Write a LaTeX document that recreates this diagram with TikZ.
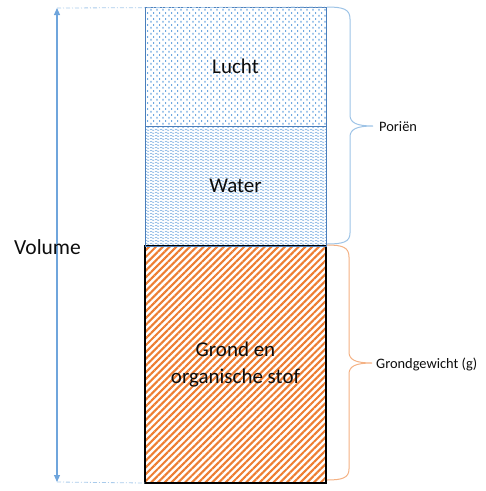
\documentclass[tikz,border=0pt]{standalone}
\usepackage{fontspec}
\setmainfont{Carlito}
\usetikzlibrary{patterns.meta,arrows.meta}
\definecolor{boxblue}{HTML}{4A7EBB}
\definecolor{dotblue}{HTML}{6FA8E0}
\definecolor{waveblue}{HTML}{7FB0E2}
\definecolor{orng}{HTML}{ED7D31}
\definecolor{braceblue}{HTML}{9DC3E6}
\definecolor{braceorng}{HTML}{F4B183}
\definecolor{arrblue}{HTML}{6FA5DC}
\definecolor{dashblue}{HTML}{A9CBEB}
\definecolor{txt}{HTML}{0D0D0D}
\tikzdeclarepattern{
  name=airdots,
  type=uncolored,
  bounding box={(0pt,0pt) and (6pt,6pt)},
  tile size={(6pt,6pt)},
  code={
    \fill (0.5pt,0.5pt) rectangle (1.9pt,2.5pt);
    \fill (3.5pt,3.5pt) rectangle (4.9pt,5.5pt);
  }
}
\tikzdeclarepattern{
  name=waves,
  type=uncolored,
  bounding box={(0pt,0pt) and (5pt,3pt)},
  tile size={(5pt,3pt)},
  code={
    \draw[line width=0.7pt] (0pt,1.5pt) sin (1.25pt,2.4pt) cos (2.5pt,1.5pt) sin (3.75pt,0.6pt) cos (5pt,1.5pt);
  }
}
\tikzset{
  layer/.style={minimum width=181pt, inner sep=0pt, outer sep=0pt, text=txt, font=\fontsize{21}{27}\selectfont, align=center},
  airbox/.style={layer, draw=boxblue, line width=1pt, pattern=airdots, pattern color=dotblue, minimum height=119pt},
  waterbox/.style={layer, draw=boxblue, line width=1pt, pattern=waves, pattern color=waveblue, minimum height=120pt},
  soilbox/.style={layer, draw=black, line width=1.2pt, pattern={Lines[angle=45,distance=4.8pt,line width=2.1pt]}, pattern color=orng, minimum height=237pt},
  guide/.style={dashblue, line width=0.8pt, dash pattern=on 4pt off 2pt on 1pt off 2pt},
  bluebrace/.style={braceblue, line width=1pt},
  orngbrace/.style={braceorng, line width=1pt},
  sidelabel/.style={anchor=west, inner sep=0pt, text=txt, font=\fontsize{14.4}{17}\selectfont}
}
\begin{document}
\begin{tikzpicture}[x=1pt,y=-1pt]
\useasboundingbox (0,0) rectangle (486,491);
% column
\node[soilbox] (grond) at (235.5,364.5) {Grond en\\organische stof};
\node[waterbox] (water) at (235.5,186) {Water};
\node[airbox] (lucht) at (235.5,66.5) {Lucht};
% volume arrow and guides
\coordinate (vtop) at (57,8);
\coordinate (vbot) at (57,482);
\draw[guide] (vtop) -- (lucht.north east);
\draw[guide] (vbot) -- (grond.south west);
\draw[arrblue, line width=1.1pt, {Triangle[length=7pt,width=6pt]}-{Triangle[length=7pt,width=6pt]}] (vtop) -- (vbot);
\node[font=\fontsize{21.5}{25}\selectfont, text=txt, inner sep=0pt] (vol) at (47.5,247) {Volume};
% blue brace (Porien)
\coordinate (bt) at (327,7);
\coordinate (btip) at (373,126);
\coordinate (bb) at (327,244);
\draw[bluebrace] (bt) .. controls (343,7) and (350,9) .. (350,19) -- (350,115)
  .. controls (350,123) and (357,126) .. (btip)
  .. controls (357,126) and (350,129) .. (350,137) -- (350,233)
  .. controls (350,242) and (343,244) .. (bb);
\node[sidelabel] (porien) at (379,127) {Poriën};
% orange brace (Grondgewicht)
\coordinate (ot) at (327,245);
\coordinate (otip) at (372,363);
\coordinate (ob) at (327,480);
\draw[orngbrace] (ot) .. controls (342,245) and (349,247) .. (349,257) -- (349,352)
  .. controls (349,360) and (356,363) .. (otip)
  .. controls (356,363) and (349,366) .. (349,374) -- (349,469)
  .. controls (349,478) and (342,480) .. (ob);
\node[sidelabel] (gewicht) at (376,364) {Grondgewicht (g)};
\end{tikzpicture}
\end{document}
